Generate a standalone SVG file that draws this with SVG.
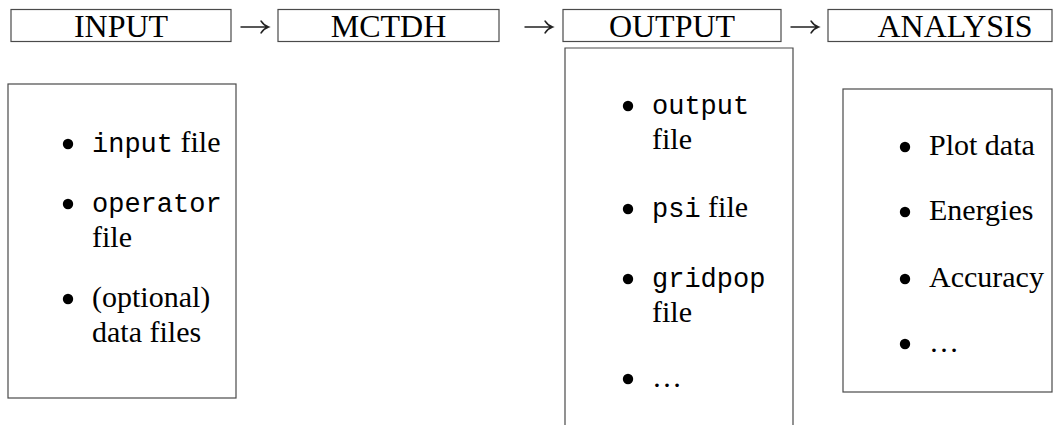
<svg xmlns="http://www.w3.org/2000/svg" width="1063" height="425" viewBox="0 0 1063 425">
  <style>
    .box { fill: #ffffff; stroke: #4a4a4a; stroke-width: 1.2; }
    .title { font-family: "Liberation Serif", "Times New Roman", serif; font-size: 32px; fill: #000; text-anchor: middle; }
    .txt { font-family: "Liberation Serif", "Times New Roman", serif; font-size: 30px; fill: #000; }
    .tt { font-family: "Liberation Mono", "Courier New", monospace; font-size: 27px; }
    .bullet { fill: #000; }
    .arrow { fill: none; stroke: #222; stroke-width: 1.4; stroke-linecap: round; }
  </style>
  <rect width="1063" height="425" fill="#ffffff"/>

  <!-- stage headers -->
  <g id="input-head">
    <rect class="box" x="11" y="9.5" width="220" height="32"/>
    <text class="title" x="121" y="37">INPUT</text>
  </g>
  <g id="mctdh-head">
    <rect class="box" x="278" y="9.5" width="221" height="32"/>
    <text class="title" x="388.5" y="37">MCTDH</text>
  </g>
  <g id="output-head">
    <rect class="box" x="563" y="9.5" width="218" height="32"/>
    <text class="title" x="672" y="37">OUTPUT</text>
  </g>
  <g id="analysis-head">
    <rect class="box" x="828" y="9.5" width="224" height="32"/>
    <text class="title" x="955" y="37">ANALYSIS</text>
  </g>

  <!-- arrows between stages -->
  <g id="connectors">
    <path class="arrow" d="M241,27 H268 M261,21 Q264,25.5 268.5,27 Q264,28.5 261,33"/>
    <path class="arrow" d="M525,27 H552 M545,21 Q548,25.5 552.5,27 Q548,28.5 545,33"/>
    <path class="arrow" d="M791,27 H818 M811,21 Q814,25.5 818.5,27 Q814,28.5 811,33"/>
  </g>

  <!-- input files -->
  <g id="input-list">
    <rect class="box" x="8" y="84" width="228" height="314"/>
    <circle class="bullet" cx="68" cy="144" r="5.2"/>
    <text class="txt" x="92" y="152"><tspan class="tt">input</tspan> file</text>
    <circle class="bullet" cx="68" cy="204" r="5.2"/>
    <text class="txt" x="92" y="212"><tspan class="tt">operator</tspan></text>
    <text class="txt" x="92" y="247">file</text>
    <circle class="bullet" cx="68" cy="299" r="5.2"/>
    <text class="txt" x="92" y="307">(optional)</text>
    <text class="txt" x="92" y="342">data files</text>
  </g>

  <!-- output files -->
  <g id="output-list">
    <path class="box" d="M565,432 V48 H793 V432"/>
    <circle class="bullet" cx="628" cy="106" r="5.2"/>
    <text class="txt" x="652" y="114"><tspan class="tt">output</tspan></text>
    <text class="txt" x="652" y="149">file</text>
    <circle class="bullet" cx="628" cy="209" r="5.2"/>
    <text class="txt" x="652" y="217"><tspan class="tt">psi</tspan> file</text>
    <circle class="bullet" cx="628" cy="279" r="5.2"/>
    <text class="txt" x="652" y="287"><tspan class="tt">gridpop</tspan></text>
    <text class="txt" x="652" y="322">file</text>
    <circle class="bullet" cx="628" cy="379" r="5.2"/>
    <text class="txt" x="652" y="387">…</text>
  </g>

  <!-- analysis tasks -->
  <g id="analysis-list">
    <rect class="box" x="843" y="89" width="209" height="303"/>
    <circle class="bullet" cx="905" cy="147" r="5.2"/>
    <text class="txt" x="929" y="155">Plot data</text>
    <circle class="bullet" cx="905" cy="212" r="5.2"/>
    <text class="txt" x="929" y="220">Energies</text>
    <circle class="bullet" cx="905" cy="279" r="5.2"/>
    <text class="txt" x="929" y="287">Accuracy</text>
    <circle class="bullet" cx="905" cy="344" r="5.2"/>
    <text class="txt" x="929" y="352">…</text>
  </g>
</svg>
